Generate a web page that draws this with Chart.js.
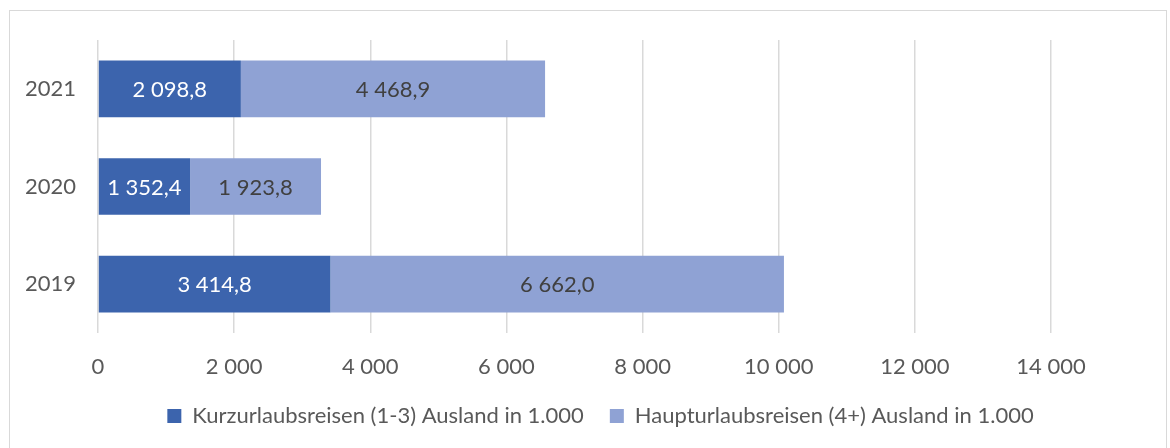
<!DOCTYPE html>
<html>
<head>
<meta charset="utf-8">
<script src="https://cdn.jsdelivr.net/npm/chart.js@4.4.1/dist/chart.umd.min.js"></script>
<style>
  html, body { margin: 0; padding: 0; background: #fff; }
  .frame {
    position: absolute; left: 9px; top: 10px; width: 1158px; height: 460px;
    border: 1.5px solid #d9d9d9; box-sizing: border-box;
  }
  .wrap { position: absolute; left: 0; top: 0; width: 1170px; height: 448px; }
</style>
</head>
<body>
<div class="frame"></div>
<div class="wrap"><canvas id="chart"></canvas></div>
<script>
const years = ['2021', '2020', '2019'];
const kurzValues = [2098.8, 1352.4, 3414.8];
const hauptValues = [4468.9, 1923.8, 6662.0];
const xTicks = [0, 2000, 4000, 6000, 8000, 10000, 12000, 14000];

const fontFamily = 'Lato, "Open Sans", sans-serif';
const fontSize = 22;

// 1234.5 -> "1 234,5"
function formatNumber(v, decimals) {
  const parts = v.toFixed(decimals).split('.');
  const int = parts[0].replace(/\B(?=(\d{3})+(?!\d))/g, ' ');
  return parts.length > 1 ? int + ',' + parts[1] : int;
}

const barLabels = {
  id: 'barLabels',
  afterDatasetsDraw(chart) {
    const ctx = chart.ctx;
    ctx.save();
    ctx.font = fontSize + 'px ' + fontFamily;
    ctx.textAlign = 'center';
    ctx.textBaseline = 'middle';
    chart.data.datasets.forEach((ds, di) => {
      const meta = chart.getDatasetMeta(di);
      ctx.fillStyle = ds.labelColor;
      meta.data.forEach((bar, i) => {
        const x = (bar.x + bar.base) / 2;
        ctx.fillText(formatNumber(ds.data[i], 1), x, bar.y + 1);
      });
    });
    ctx.restore();
  },
};

// legend sits centred on the whole frame, not only the plot side
const legendShift = {
  id: 'legendShift',
  afterLayout(chart) {
    chart.legend.left += 75;
    chart.legend.right += 75;
  },
};

const config = {
  type: 'bar',
  data: {
    labels: years,
    datasets: [
      {
        label: 'Kurzurlaubsreisen (1-3) Ausland in 1.000',
        data: kurzValues,
        backgroundColor: '#3c64ad',
        borderWidth: 0,
        labelColor: '#ffffff',
      },
      {
        label: 'Haupturlaubsreisen (4+) Ausland in 1.000',
        data: hauptValues,
        backgroundColor: '#8fa2d4',
        borderWidth: 0,
        labelColor: '#404040',
      },
    ],
  },
  options: {
    indexAxis: 'y',
    responsive: true,
    maintainAspectRatio: false,
    animation: false,
    layout: { padding: { left: 0, right: 119, top: 40, bottom: 11 } },
    datasets: {
      bar: { categoryPercentage: 1, barPercentage: 0.58 },
    },
    scales: {
      x: {
        stacked: true,
        min: 0,
        max: 14000,
        afterBuildTicks: (axis) => {
          axis.ticks = xTicks.map((v) => ({ value: v }));
        },
        afterFit: (axis) => {
          axis.height = 46;
        },
        grid: { color: '#d9d9d9', lineWidth: 1.5, drawTicks: false },
        border: { display: false },
        ticks: {
          padding: 21,
          color: '#595959',
          font: { family: fontFamily, size: fontSize },
          callback: (v) => formatNumber(v, 0),
        },
      },
      y: {
        stacked: true,
        afterFit: (axis) => {
          axis.width = 98;
        },
        grid: { display: false, drawTicks: false },
        border: { display: false },
        ticks: {
          padding: 22,
          color: '#595959',
          font: { family: fontFamily, size: fontSize },
        },
      },
    },
    plugins: {
      legend: {
        position: 'bottom',
        labels: {
          boxWidth: 14,
          boxHeight: 14,
          padding: 26,
          color: '#595959',
          font: { family: fontFamily, size: fontSize },
        },
      },
      tooltip: { enabled: false },
    },
  },
  plugins: [barLabels, legendShift],
};

new Chart(document.getElementById('chart'), config);
</script>
</body>
</html>
